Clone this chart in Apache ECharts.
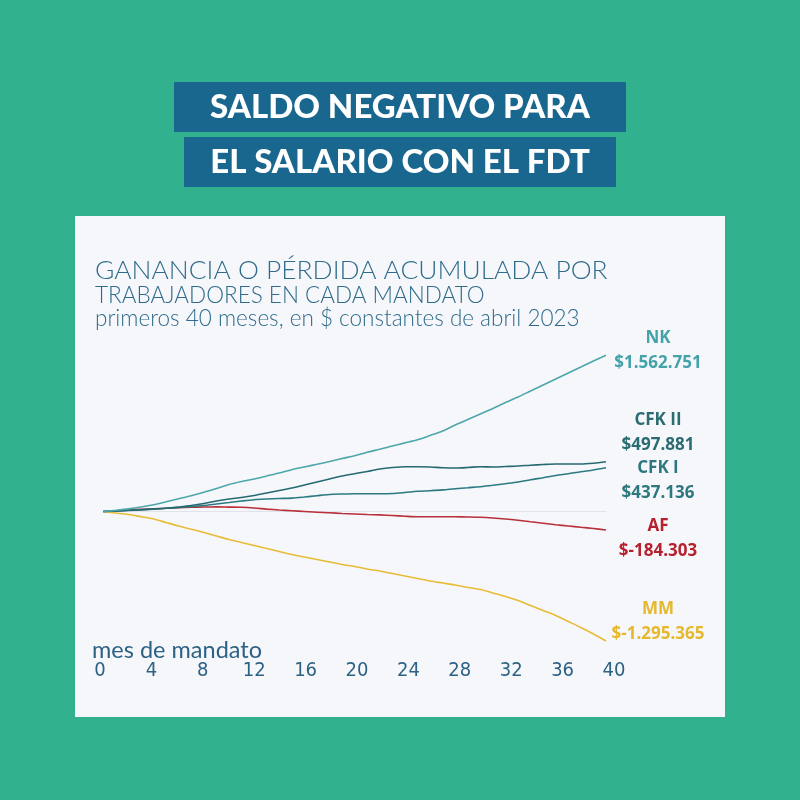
<!DOCTYPE html>
<html>
<head>
<meta charset="utf-8">
<script src="https://cdn.jsdelivr.net/npm/echarts@6/dist/echarts.min.js"></script>
<style>html,body{margin:0;padding:0;background:#31b18e;}#c{width:800px;height:800px;}</style>
</head>
<body>
<div id="c"></div>
<script>
var months = [];
for (var i = 0; i <= 40; i++) months.push(i);
var tickLabels = ['0','4','8','12','16','20','24','28','32','36','40'];
var seriesNames = ['NK', 'CFK II', 'CFK I', 'AF', 'MM'];
var nk = [0,12000,26000,45000,68000,98000,128000,158000,192000,230000,270000,300000,325000,355000,385000,418000,445000,472000,500000,530000,558000,593000,622000,655000,686000,718000,760000,805000,865000,920000,975000,1030000,1090000,1145000,1205000,1265000,1325000,1385000,1445000,1505000,1562751];
var cfk2 = [0,5000,12000,18000,25000,32000,45000,60000,80000,105000,125000,140000,160000,185000,210000,235000,265000,295000,325000,355000,378000,400000,425000,440000,448000,448000,445000,438000,435000,440000,448000,445000,450000,455000,463000,470000,475000,475000,475000,483000,497881];
var cfk1 = [0,4000,10000,16000,24000,32000,40000,50000,60000,75000,90000,105000,118000,125000,130000,134000,145000,158000,170000,175000,178000,178000,178000,180000,190000,202000,208000,216000,228000,238000,248000,262000,278000,295000,318000,338000,360000,378000,398000,415000,437136];
var af = [0,8000,15000,22000,28000,33000,38000,42000,45000,46000,44000,42000,35000,24000,15000,8000,0,-8000,-13000,-20000,-25000,-30000,-34000,-40000,-47000,-52000,-52000,-52000,-53000,-55000,-58000,-65000,-75000,-88000,-103000,-117000,-132000,-145000,-158000,-170000,-184303];
var mm = [0,-15000,-30000,-52000,-75000,-110000,-145000,-177000,-210000,-245000,-280000,-310000,-340000,-370000,-400000,-430000,-455000,-480000,-505000,-530000,-550000,-575000,-595000,-620000,-645000,-670000,-695000,-715000,-735000,-760000,-780000,-815000,-850000,-890000,-940000,-990000,-1040000,-1100000,-1160000,-1225000,-1295365];
var allValues = [nk, cfk2, cfk1, af, mm];
var lineColors = ['#4ea6ad', '#256a70', '#2b7a81', '#b8303a', '#e8bc36'];
var labelColors = ['#44a2a9', '#2a6c72', '#2d787e', '#b5222d', '#e5b82e'];
var labelOffsets = [[44,-5],[44,-29],[44,13],[44,9],[44,-19]];

function fmt(v){
  var s = Math.abs(Math.round(v)).toString().replace(/\B(?=(\d{3})+(?!\d))/g, '.');
  return '$' + (v < 0 ? '-' : '') + s;
}

var chart = echarts.init(document.getElementById('c'));
var series = seriesNames.map(function(name, k){
  return {
    name: name, type: 'line', xAxisIndex: 0, yAxisIndex: 0,
    data: months.map(function(m, j){ return [m, allValues[k][j]]; }),
    showSymbol: false, smooth: 0.3, z: 10 - k,
    lineStyle: {color: lineColors[k], width: 1.6},
    endLabel: {
      show: true, align: 'center', verticalAlign: 'middle', offset: labelOffsets[k],
      formatter: function(p){ return '{a|' + name + '}\n{a|' + fmt(p.value[1]) + '}'; },
      rich: {a: {fontFamily: 'Open Sans', fontWeight: 'bold', fontSize: 17, lineHeight: 25, color: labelColors[k], align: 'center'}}
    },
    emphasis: {disabled: true}
  };
});
series.push({type: 'line', xAxisIndex: 1, yAxisIndex: 1, data: [], silent: true});

chart.setOption({
  backgroundColor: '#31b18e',
  animation: false,
  graphic: [
    {type: 'rect', shape: {x: 75, y: 216, width: 650, height: 501}, style: {fill: '#f6f7fb'}, z: -10},
    {type: 'rect', shape: {x: 174, y: 82, width: 452, height: 50}, style: {fill: '#19678f'}, z: -10},
    {type: 'rect', shape: {x: 184, y: 137, width: 432, height: 50}, style: {fill: '#19678f'}, z: -10}
  ],
  title: [
    {text: 'SALDO NEGATIVO PARA', left: 'center', top: 89, padding: 0, textStyle: {fontFamily: 'Lato', fontWeight: 900, fontSize: 33, lineHeight: 37, color: '#ffffff'}},
    {text: 'EL SALARIO CON EL FDT', left: 'center', top: 144, padding: 0, textStyle: {fontFamily: 'Lato', fontWeight: 900, fontSize: 33, lineHeight: 37, color: '#ffffff'}},
    {text: 'GANANCIA O PÉRDIDA ACUMULADA POR', left: 95, top: 255, padding: 0, textStyle: {fontFamily: 'Lato', fontWeight: 300, fontSize: 26.4, lineHeight: 31, color: '#2f6c8b'}},
    {text: 'TRABAJADORES EN CADA MANDATO', left: 95, top: 283, padding: 0, textStyle: {fontFamily: 'Lato', fontWeight: 300, fontSize: 22.5, lineHeight: 26, color: '#2f6c8b'}},
    {text: 'primeros 40 meses, en $ constantes de abril 2023', left: 95, top: 306, padding: 0, textStyle: {fontFamily: 'Lato', fontWeight: 300, fontSize: 22.5, lineHeight: 26, color: '#2f6c8b'}},
    {text: 'mes de mandato', left: 92, top: 636, padding: 0, textStyle: {fontFamily: 'Lato', fontWeight: 400, fontSize: 23.5, lineHeight: 28, color: '#2d6285'}}
  ],
  grid: [
    {left: 103.3, right: 194, top: 341.5, bottom: 148.5},
    {left: 100, right: 186, top: 655, height: 1}
  ],
  xAxis: [
    {gridIndex: 0, type: 'value', min: 0, max: 40,
     axisLine: {show: true, onZero: true, lineStyle: {color: '#e2e3ea', width: 1}},
     axisTick: {show: false}, axisLabel: {show: false}, splitLine: {show: false}},
    {gridIndex: 1, type: 'value', min: 0, max: 40, interval: 4, position: 'bottom',
     axisLine: {show: false}, axisTick: {show: false}, splitLine: {show: false},
     axisLabel: {margin: 5, fontFamily: 'DejaVu Sans Condensed', fontSize: 20, color: '#2d6285',
       formatter: function(v){ return tickLabels[Math.round(v/4)]; }}}
  ],
  yAxis: [
    {gridIndex: 0, type: 'value', min: -1400000, max: 1700000, show: false, splitLine: {show: false}},
    {gridIndex: 1, type: 'value', show: false}
  ],
  series: series
});
</script>
</body>
</html>
